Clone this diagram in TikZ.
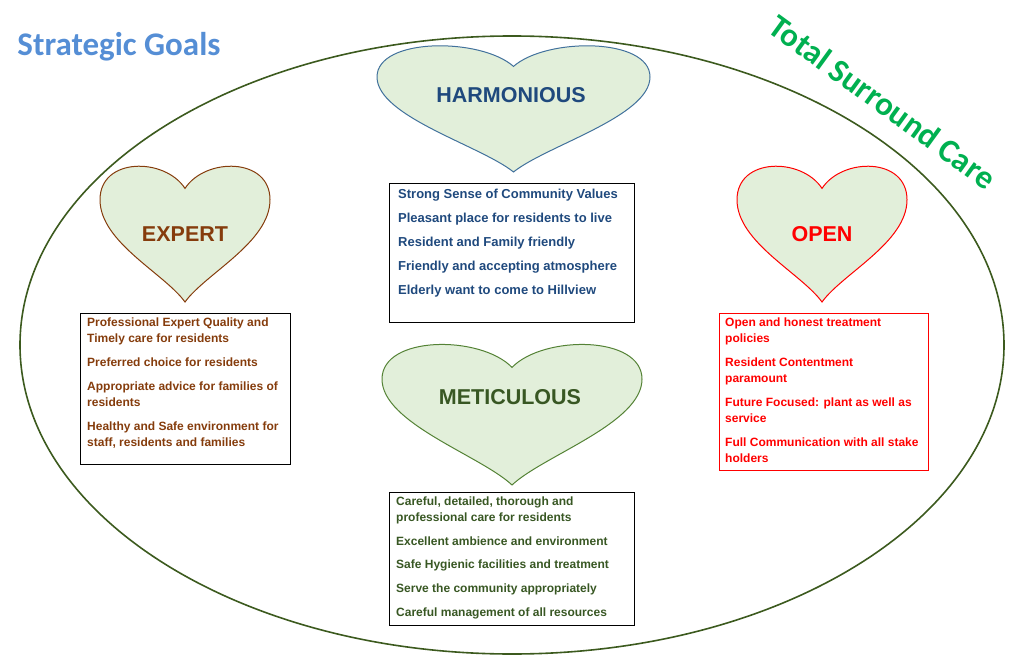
\documentclass[tikz,border=0pt]{standalone}
\usepackage{fontspec}
\usetikzlibrary{shapes.geometric}
\setmainfont{Liberation Sans}
\newfontfamily\titlefont{Carlito}
\definecolor{ringgreen}{RGB}{60,90,30}
\definecolor{heartfill}{RGB}{226,239,218}
\definecolor{hblue}{RGB}{65,113,156}
\definecolor{tblue}{RGB}{31,73,125}
\definecolor{tbrown}{RGB}{133,60,12}
\definecolor{tgreen}{RGB}{56,87,35}
\definecolor{mgreen}{RGB}{84,130,53}
\definecolor{sgblue}{RGB}{85,142,213}
\definecolor{tscgreen}{RGB}{0,176,80}
\tikzset{
  heart/.pic={\path[pic actions] (0.5,0.8) .. controls (0.62,1.02) and (1.0,1.02) .. (1.0,0.72) .. controls (1.0,0.42) and (0.62,0.2) .. (0.5,0) .. controls (0.38,0.2) and (0,0.42) .. (0,0.72) .. controls (0,1.02) and (0.38,1.02) .. (0.5,0.8) -- cycle;},
  htitle/.style={font=\fontsize{21.5}{24}\selectfont\bfseries},
  btext/.style={anchor=north west, align=left, inner sep=0pt, font=\fontsize{12}{16}\selectfont\bfseries},
}
\begin{document}
\begin{tikzpicture}[x=1pt,y=1pt]
\useasboundingbox (0,0) rectangle (1024,665);
\node[draw=ringgreen, line width=1.6pt, ellipse, minimum width=984pt, minimum height=618pt, inner sep=0pt] (ring) at (512,320) {};
% hearts
\pic[fill=heartfill, draw=hblue, line width=1pt, xscale=273, yscale=132] (hh) at (377,493) {heart};
\pic[fill=heartfill, draw=tbrown, line width=1pt, xscale=170, yscale=142] (he) at (100,363) {heart};
\pic[fill=heartfill, draw=red, line width=1pt, xscale=170, yscale=142] (ho) at (737,363) {heart};
\pic[fill=heartfill, draw=mgreen, line width=1pt, xscale=260, yscale=147] (hm) at (382,180) {heart};
\node[htitle, text=tblue] (th) at (511,570) {HARMONIOUS};
\node[htitle, text=tbrown] (te) at (185,431) {EXPERT};
\node[htitle, text=red] (to) at (822,431) {OPEN};
\node[htitle, text=tgreen] (tm) at (510,268) {METICULOUS};
% boxes
\draw[line width=0.9pt] (389,482) rectangle (634,343);
\draw[line width=0.9pt] (80,352) rectangle (290,201);
\draw[red, line width=0.9pt] (719,352) rectangle (928,195);
\draw[line width=0.9pt] (389,173) rectangle (634,40);
\node[btext, text=tblue, font=\fontsize{13}{24}\selectfont\bfseries] (bh) at (398,476) {Strong Sense of Community Values\\Pleasant place for residents to live\\Resident and Family friendly\\Friendly and accepting atmosphere\\Elderly want to come to Hillview};
\node[btext, text=tbrown] (be) at (87,347) {Professional Expert Quality and\\Timely care for residents\\[8pt]Preferred choice for residents\\[8pt]Appropriate advice for families of\\residents\\[8pt]Healthy and Safe environment for\\staff, residents and families};
\node[btext, text=red] (bo) at (725,347) {Open and honest treatment\\policies\\[8pt]Resident Contentment\\paramount\\[8pt]Future Focused: plant as well as\\service\\[8pt]Full Communication with all stake\\holders};
\node[btext, text=tgreen] (bm) at (396,168) {Careful, detailed, thorough and\\professional care for residents\\[8pt]Excellent ambience and environment\\[7pt]Safe Hygienic facilities and treatment\\[8pt]Serve the community appropriately\\[8pt]Careful management of all resources};
% titles
\node[text=sgblue, font=\titlefont\fontsize{33}{36}\selectfont\bfseries] (sg) at (119,618) {Strategic Goals};
\node[text=tscgreen, font=\titlefont\fontsize{33}{36}\selectfont\bfseries, rotate=-36] (tsc) at (883,563) {Total Surround Care};
\end{tikzpicture}
\end{document}
